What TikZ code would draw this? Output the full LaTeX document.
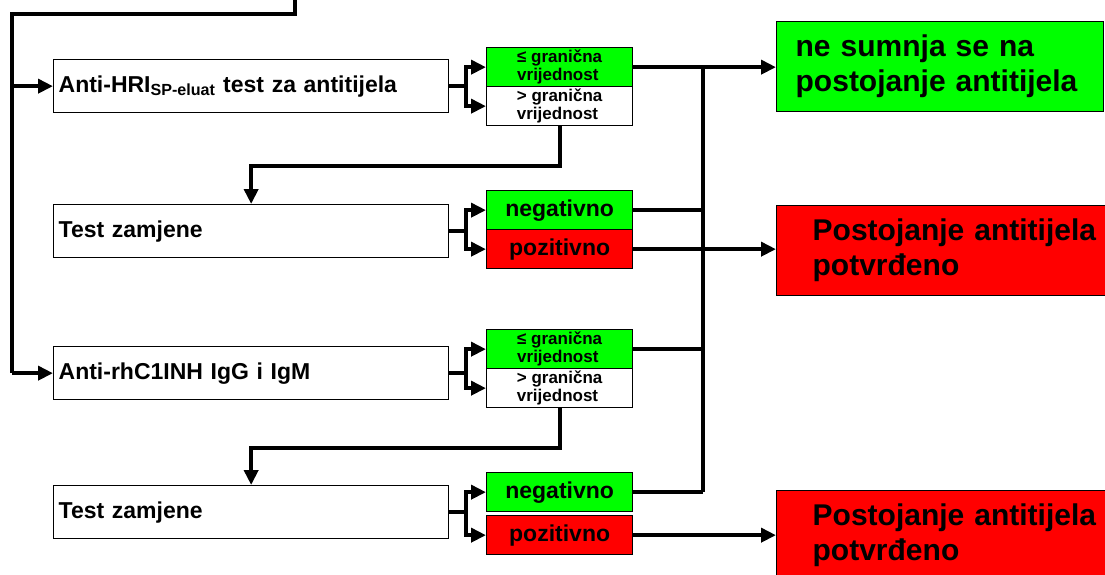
\documentclass[tikz,border=0pt]{standalone}
\usepackage{fontspec}
\setmainfont{Liberation Sans}
\usetikzlibrary{arrows.meta}
\definecolor{okgreen}{RGB}{0,255,0}
\definecolor{badred}{RGB}{255,0,0}

\begin{document}
\begin{tikzpicture}[x=1pt,y=-1pt,
    testbox/.style={draw,line width=1.3pt,anchor=north west,inner sep=0pt,
      minimum width=395,minimum height=53,text width=385,align=left,
      font=\bfseries\fontsize{23}{25}\selectfont},
    cutbox/.style={draw,line width=1.3pt,anchor=north west,inner sep=0pt,
      minimum width=146,minimum height=39,align=left,
      font=\bfseries\fontsize{17}{18}\selectfont},
    resbox/.style={draw,line width=1.3pt,anchor=north west,inner sep=0pt,
      minimum height=90,align=left,
      font=\bfseries\fontsize{30}{35}\selectfont},
    conn/.style={line width=3.8pt},
    arr/.style={line width=3.8pt,-{Triangle[length=15pt,width=14pt]}}]
  \useasboundingbox (0,0) rectangle (1105,575);
  \clip (0,0) rectangle (1105,575);

  % left column
  \node[testbox] (test1) at (53,59) {Anti-HRI\textsubscript{SP-eluat} test za antitijela};
  \node[testbox] (test2) at (53,204) {Test zamjene};
  \node[testbox] (test3) at (53,346) {Anti-rhC1INH IgG i IgM};
  \node[testbox] (test4) at (53,485) {Test zamjene};

  % outcomes
  \node[cutbox,fill=okgreen] (cut1lo) at (486,47) {≤ granična\\vrijednost};
  \node[cutbox] (cut1hi) at (486,86) {> granična\\vrijednost};
  \node[cutbox,fill=okgreen,font=\bfseries\fontsize{23}{25}\selectfont] (neg1) at (486,190) {negativno};
  \node[cutbox,fill=badred,font=\bfseries\fontsize{23}{25}\selectfont] (pos1) at (486,229) {pozitivno};
  \node[cutbox,fill=okgreen] (cut2lo) at (486,329) {≤ granična\\vrijednost};
  \node[cutbox] (cut2hi) at (486,368) {> granična\\vrijednost};
  \node[cutbox,fill=okgreen,font=\bfseries\fontsize{23}{25}\selectfont] (neg2) at (486,472) {negativno};
  \node[cutbox,fill=badred,font=\bfseries\fontsize{23}{25}\selectfont] (pos2) at (486,515) {pozitivno};

  % results
  \node[resbox,fill=okgreen,minimum width=327,text width=289] (none) at (776,21)
    {ne sumnja se na\\postojanje antitijela};
  \node[resbox,fill=badred,minimum width=364,text width=292] (conf1) at (776,205)
    {Postojanje antitijela\\potvrđeno};
  \node[resbox,fill=badred,minimum width=364,text width=292] (conf2) at (776,490)
    {Postojanje antitijela\\potvrđeno};

  % feed from above
  \coordinate (top) at (295,0);
  \coordinate (rail) at (12,14);
  \draw[conn] (top) |- (rail) -- (rail |- test3.west);
  \draw[arr] (rail |- test1.west) -- (test1.west);
  \draw[arr] (rail |- test3.west) -- (test3.west);

  % forks
  \foreach \t/\a/\b in {test1/cut1lo/cut1hi,test2/neg1/pos1,test3/cut2lo/cut2hi,test4/neg2/pos2}{
    \draw[conn] (\t.east) -- ++(17,0) coordinate (fork);
    \draw[arr] (fork) |- (\a.west);
    \draw[arr] (fork) |- (\b.west);
  }

  % above cut-off goes on
  \draw[arr] (cut1hi.south) -- ++(0,40) -| (test2.north);
  \draw[arr] (cut2hi.south) -- ++(0,40) -| (test4.north);

  % collecting line
  \coordinate (bus) at (703,0);
  \draw[arr] (cut1lo.east) -- (cut1lo.east -| none.west);
  \draw[conn] (cut1lo.east -| bus) -- (neg2.east -| bus);
  \draw[conn] (neg1.east) -- (neg1.east -| bus);
  \draw[conn] (cut2lo.east) -- (cut2lo.east -| bus);
  \draw[conn] (neg2.east) -- (neg2.east -| bus);

  % positive results
  \draw[arr] (pos1.east) -- (pos1.east -| conf1.west);
  \draw[arr] (pos2.east) -- (pos2.east -| conf2.west);
\end{tikzpicture}
\end{document}
